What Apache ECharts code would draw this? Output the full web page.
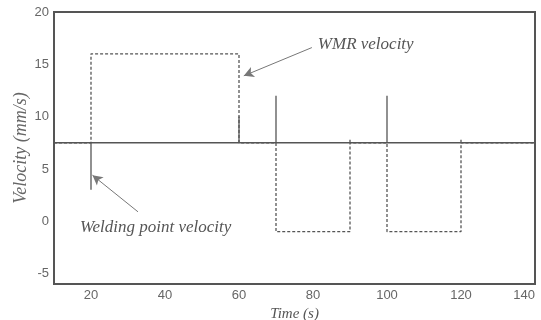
<!DOCTYPE html>
<html><head><meta charset="utf-8">
<script src="https://cdn.jsdelivr.net/npm/echarts@6/dist/echarts.min.js"></script>
<style>html,body{margin:0;padding:0;background:#fff}#c{width:541px;height:320px}</style>
</head><body><div id="c"></div>
<script>
// WMR velocity (dashed step curve)
const timeWMR = [10,20,20,60,60,70,70,90,90,100,100,120,120,140];
const velWMR  = [7.5,7.5,16,16,7.5,7.5,-1,-1,7.5,7.5,-1,-1,7.5,7.5];
// Welding point velocity (solid, with transient spikes)
const timeWeld = [10,20,20,20,60,60,60,70,70,70,90,90,90,100,100,100,120,120,120,140];
const velWeld  = [7.5,7.5,3,7.5,7.5,10,7.5,7.5,12,7.5,7.5,7.8,7.5,7.5,12,7.5,7.5,7.8,7.5,7.5];
const xTicks = [20,40,60,80,100,120,140];
const yTicks = [-5,0,5,10,15,20];
const labels = ['WMR velocity','Welding point velocity'];

const pairs = (xs, ys) => xs.map((x,i)=>[x, ys[i]]);
const serif = 'Liberation Serif';
const chart = echarts.init(document.getElementById('c'));
chart.setOption({
  animation:false,
  grid:{left:54,right:6,top:12,bottom:36,containLabel:false,outerBoundsMode:'none'},
  xAxis:{type:'value',min:10,max:140,interval:10,
    name:'Time (s)',nameLocation:'middle',nameGap:20,
    nameTextStyle:{fontFamily:serif,fontStyle:'italic',fontSize:15,color:'#555'},
    axisLine:{show:true,onZero:false,lineStyle:{color:'#555',width:2}},
    axisTick:{show:false},
    axisLabel:{color:'#666',fontFamily:'Liberation Sans',fontSize:13,margin:5,alignMaxLabel:'right',
      formatter:v=>xTicks.includes(v)?String(v):''},
    splitLine:{show:false}},
  yAxis:{type:'value',min:-6,max:20,interval:1,
    name:'Velocity (mm/s)',nameLocation:'middle',nameGap:24,nameMoveOverlap:false,
    nameTextStyle:{fontFamily:serif,fontStyle:'italic',fontSize:18,color:'#666'},
    axisLine:{show:true,onZero:false,lineStyle:{color:'#555',width:2}},
    axisTick:{show:false},
    axisLabel:{color:'#666',fontFamily:'Liberation Sans',fontSize:13,margin:5,
      formatter:v=>yTicks.includes(v)?String(v):''},
    splitLine:{show:false}},
  series:[
    {type:'line',name:labels[0],data:pairs(timeWMR,velWMR),showSymbol:false,
     lineStyle:{color:'#555',width:1.3,type:[3,2]},z:2,
     markLine:{symbol:['none','arrow'],symbolSize:[8,10],silent:true,
       lineStyle:{color:'#777',width:1,type:'solid'},label:{show:false},
       data:[[{coord:[79.7,16.6]},{coord:[61.3,13.9]}],[{coord:[32.7,0.9]},{coord:[20.4,4.4]}]]},
     markPoint:{symbol:'circle',symbolSize:0,silent:true,
       label:{show:true,position:'right',distance:0,fontFamily:serif,fontStyle:'italic',fontSize:17,color:'#555',
         formatter:p=>p.name},
       data:[{name:labels[0],coord:[81.3,16.9]},{name:labels[1],coord:[17.0,-0.6]}]}},
    {type:'line',name:labels[1],data:pairs(timeWeld,velWeld),showSymbol:false,
     lineStyle:{color:'#555',width:1.3},z:3}
  ],
  graphic:[{type:'rect',shape:{x:54,y:12,width:481,height:272},
    style:{fill:'none',stroke:'#555',lineWidth:2},silent:true}]
});
</script></body></html>
